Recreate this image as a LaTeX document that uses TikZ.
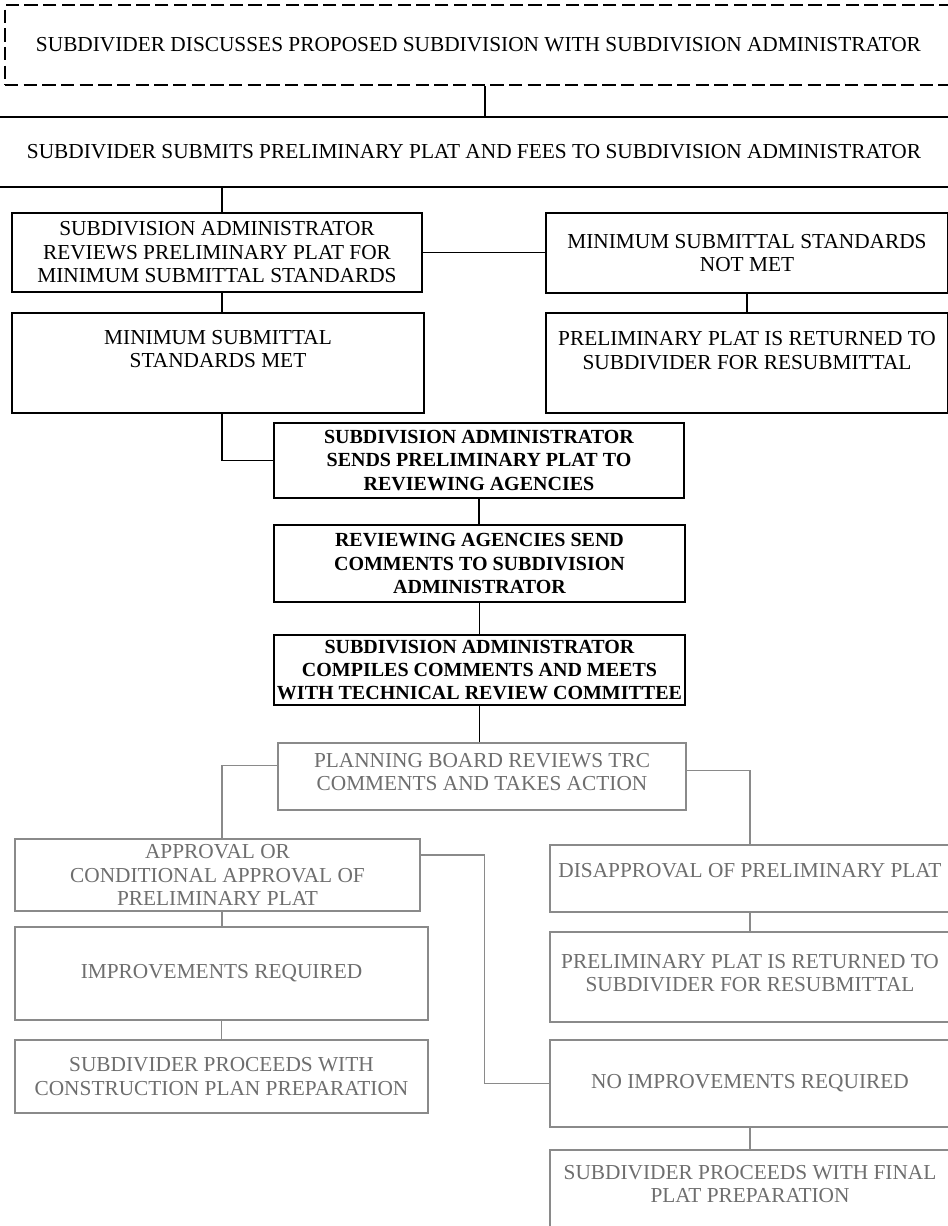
\documentclass[tikz,border=0pt]{standalone}
\usepackage{fontspec}
\setmainfont{Liberation Serif}
\definecolor{fadedink}{HTML}{6E6E6E}
\definecolor{fadeline}{HTML}{8A8A8A}
\begin{document}
\begin{tikzpicture}[x=0.75pt,y=-0.75pt,
  stepbox/.style={draw, line width=1.4pt, align=center, inner sep=0pt,
    font=\fontsize{16}{17.6}\selectfont},
  boldbox/.style={stepbox, line width=1.8pt, font=\fontsize{15}{17.6}\selectfont\bfseries},
  fadebox/.style={stepbox, draw=fadeline, text=fadedink, line width=1.2pt},
  lift/.style={text depth=#1},
  link/.style={line width=0.9pt},
  fadelink/.style={line width=0.9pt, draw=fadeline}]
\useasboundingbox (0,0) rectangle (948,1226);
\node[stepbox, dashed, dash pattern=on 10pt off 4pt, minimum width=710.25pt, minimum height=60pt] (b1) at (478.5,45) {SUBDIVIDER DISCUSSES PROPOSED SUBDIVISION WITH SUBDIVISION ADMINISTRATOR};
\node[stepbox, minimum width=715.5pt, minimum height=52.5pt] (b2) at (474,152) {SUBDIVIDER SUBMITS PRELIMINARY PLAT AND FEES TO SUBDIVISION ADMINISTRATOR};
\node[stepbox, minimum width=307.5pt, minimum height=59.25pt] (b3) at (217,252.5) {SUBDIVISION ADMINISTRATOR\\REVIEWS PRELIMINARY PLAT FOR\\MINIMUM SUBMITTAL STANDARDS};
\node[stepbox, minimum width=301.5pt, minimum height=60pt] (b4) at (747,253) {MINIMUM SUBMITTAL STANDARDS\\NOT MET};
\node[stepbox, lift=21pt, minimum width=309pt, minimum height=75pt] (b5) at (218,363) {MINIMUM SUBMITTAL\\STANDARDS MET};
\node[stepbox, lift=19pt, minimum width=301.5pt, minimum height=75pt] (b6) at (747,363) {PRELIMINARY PLAT IS RETURNED TO\\SUBDIVIDER FOR RESUBMITTAL};
\node[boldbox, minimum width=307.5pt, minimum height=56.25pt] (b7) at (479,460.5) {SUBDIVISION ADMINISTRATOR\\SENDS PRELIMINARY PLAT TO\\REVIEWING AGENCIES};
\node[boldbox, minimum width=308.25pt, minimum height=57.75pt] (b8) at (479.5,563.5) {REVIEWING AGENCIES SEND\\COMMENTS TO SUBDIVISION\\ADMINISTRATOR};
\node[boldbox, minimum width=308.25pt, minimum height=52.5pt] (b9) at (479.5,670) {SUBDIVISION ADMINISTRATOR\\COMPILES COMMENTS AND MEETS\\WITH TECHNICAL REVIEW COMMITTEE};
\node[fadebox, lift=7pt, minimum width=306pt, minimum height=50.25pt] (b10) at (482,776.5) {PLANNING BOARD REVIEWS TRC\\COMMENTS AND TAKES ACTION};
\node[fadebox, minimum width=303.75pt, minimum height=54pt] (b11) at (217.5,875) {APPROVAL OR\\CONDITIONAL APPROVAL OF\\PRELIMINARY PLAT};
\node[fadebox, lift=12pt, minimum width=300pt, minimum height=50.25pt] (b12) at (750,878.5) {DISAPPROVAL OF PRELIMINARY PLAT};
\node[fadebox, minimum width=309.75pt, minimum height=69.75pt] (b13) at (221.5,973.5) {IMPROVEMENTS REQUIRED};
\node[fadebox, lift=6pt, minimum width=300pt, minimum height=67.5pt] (b14) at (750,977) {PRELIMINARY PLAT IS RETURNED TO\\SUBDIVIDER FOR RESUBMITTAL};
\node[fadebox, minimum width=309.75pt, minimum height=54.75pt] (b15) at (221.5,1076.5) {SUBDIVIDER PROCEEDS WITH\\CONSTRUCTION PLAN PREPARATION};
\node[fadebox, minimum width=300pt, minimum height=65.25pt] (b16) at (750,1083.5) {NO IMPROVEMENTS REQUIRED};
\node[fadebox, lift=9pt, minimum width=300pt, minimum height=60pt] (b17) at (750,1190) {SUBDIVIDER PROCEEDS WITH FINAL\\PLAT PREPARATION};
% upper part
\draw[link] ([xshift=4.9pt]b1.south) -- ([xshift=4.9pt]b1.south |- b2.north);
\draw[link] ([xshift=3.75pt]b3.north) -- ([xshift=3.75pt]b3.north |- b2.south);
\draw[link] (b3.east) -- (b3.east -| b4.west);
\draw[link] ([xshift=3.75pt]b3.south) -- ([xshift=3.75pt]b3.south |- b5.north);
\draw[link] (b4.south) -- (b4.south |- b6.north);
\draw[link] ([xshift=3pt]b5.south) |- (b7.west);
\draw[link] (b7.south) -- (b7.south |- b8.north);
\draw[link] (b8.south) -- (b9.north);
\draw[link] (b9.south) -- (b9.south |- b10.north);
% lower part
\draw[fadelink] ([yshift=8.25pt]b10.west) -| ([xshift=3.4pt]b11.north);
\draw[fadelink] ([yshift=4.5pt]b10.east) -| (b12.north);
\draw[fadelink] ([xshift=3.4pt]b11.south) -- ([xshift=3.4pt]b11.south |- b13.north);
\draw[fadelink] ([yshift=15pt]b11.east) -- ++(64,0) |- (b16.west);
\draw[fadelink] (b12.south) -- (b14.north);
\draw[fadelink] (b13.south) -- (b15.north);
\draw[fadelink] (b16.south) -- (b17.north);
\end{tikzpicture}
\end{document}
